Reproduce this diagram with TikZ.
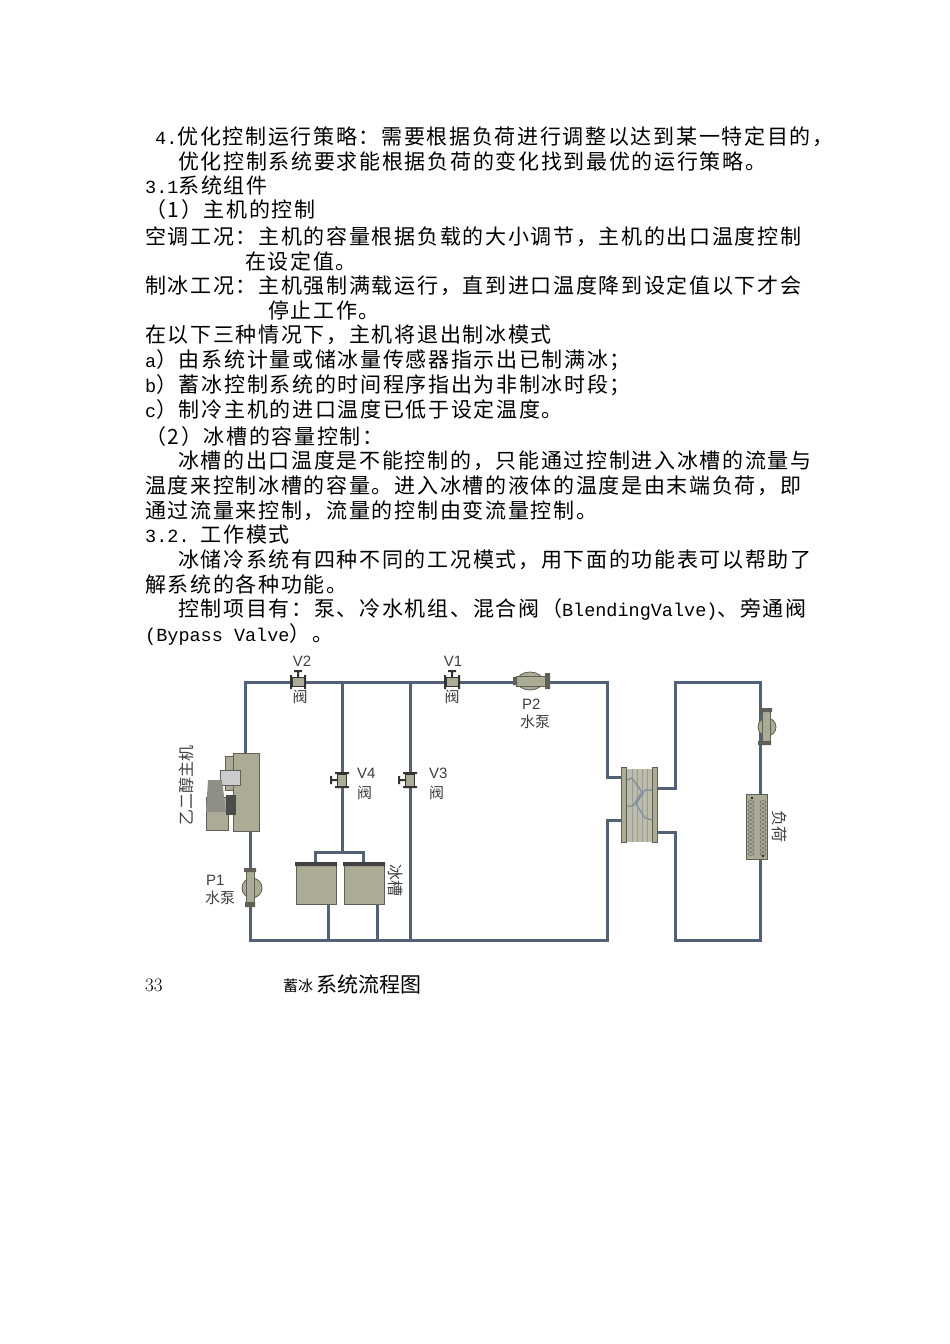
\documentclass[tikz,border=0pt]{standalone}
\usepackage{fontspec}
\usetikzlibrary{shapes.geometric}
\newfontfamily\cjk{Noto Sans CJK SC}
\newfontfamily\cjkw[LetterSpace=8]{Noto Sans CJK SC}
\newfontfamily\lab{Liberation Sans}
\newfontfamily\mono{Liberation Mono}
\newcommand{\mm}[1]{{\mono\fontsize{18.5}{22}\selectfont #1}}
\definecolor{pipe}{RGB}{82,98,118}
\definecolor{equip}{RGB}{172,172,150}
\definecolor{equipd}{RGB}{95,95,85}
\begin{document}
\begin{tikzpicture}[x=1pt,y=-1pt,
  txt/.style={anchor=west,inner sep=0pt,font=\cjkw\fontsize{21}{22}\selectfont},
  lbl/.style={inner sep=0pt,font=\lab\fontsize{15}{16}\selectfont,text=black!75},
  clbl/.style={inner sep=0pt,font=\cjk\fontsize{15}{16}\selectfont,text=black!75},
  pp/.style={draw=pipe,line width=3pt},
  eq/.style={fill=equip,draw=equipd,line width=0.8pt},
  valve/.style={fill=equip,draw=black!80,line width=0.8pt}]
\useasboundingbox (0,0) rectangle (950,1344);
\fill[white] (0,0) rectangle (950,1344);
% ---- text
\node[txt] (t1) at (155,137) {\mm{4.}优化控制运行策略：需要根据负荷进行调整以达到某一特定目的，};
\node[txt] (t2) at (178,161) {优化控制系统要求能根据负荷的变化找到最优的运行策略。};
\node[txt] (t3) at (145,185) {\mm{3.1}系统组件};
\node[txt] (t4) at (145,210) {（1）主机的控制};
\node[txt] (t5) at (145,237) {空调工况：主机的容量根据负载的大小调节，主机的出口温度控制};
\node[txt] (t6) at (245,261) {在设定值。};
\node[txt] (t7) at (145,286) {制冰工况：主机强制满载运行，直到进口温度降到设定值以下才会};
\node[txt] (t8) at (268,310) {停止工作。};
\node[txt] (t9) at (145,335) {在以下三种情况下，主机将退出制冰模式};
\node[txt] (t10) at (145,360) {\mm{a}）由系统计量或储冰量传感器指示出已制满冰；};
\node[txt] (t11) at (145,385) {\mm{b}）蓄冰控制系统的时间程序指出为非制冰时段；};
\node[txt] (t12) at (145,410) {\mm{c}）制冷主机的进口温度已低于设定温度。};
\node[txt] (t13) at (145,437) {（2）冰槽的容量控制：};
\node[txt] (t14) at (178,461) {冰槽的出口温度是不能控制的，只能通过控制进入冰槽的流量与};
\node[txt] (t15) at (145,486) {温度来控制冰槽的容量。进入冰槽的液体的温度是由末端负荷，即};
\node[txt] (t16) at (145,511) {通过流量来控制，流量的控制由变流量控制。};
\node[txt] (t17) at (145,535) {\mm{3.2.\ }工作模式};
\node[txt] (t18) at (178,560) {冰储冷系统有四种不同的工况模式，用下面的功能表可以帮助了};
\node[txt] (t19) at (145,584) {解系统的各种功能。};
\node[txt] (t20) at (178,609) {控制项目有：泵、冷水机组、混合阀（\mm{BlendingValve)}、旁通阀};
\node[txt] (t21) at (145,634) {\mm{(Bypass Valve}）。};
\node[anchor=west,inner sep=0pt,font=\fontsize{19}{20}\selectfont] (cap1) at (145,985) {33};
\node[anchor=west,inner sep=0pt,font=\cjk\fontsize{15}{16}\selectfont] (cap2) at (283,986) {蓄冰};
\node[anchor=west,inner sep=0pt,font=\cjk\fontsize{21}{22}\selectfont] (cap3) at (316,984) {系统流程图};
% ---- coordinates
\coordinate (tl) at (245,682); \coordinate (tr) at (607,682);
\coordinate (bl) at (250,940); \coordinate (br) at (607,940);
% ---- pipes
\draw[pp] (245,753) -- (tl) -- (tr) -- (607,777) -- (623,777);
\draw[pp] (623,820) -- (607,820) -- (br) -- (bl) -- (250,905);
\draw[pp] (245,830) -- (250,830) -- (250,870);
\draw[pp] (342,682) -- (342,852) (315,866) |- (342,852) -| (363,866);
\draw[pp] (410,682) -- (410,940);
\draw[pp] (328,890) -- (328,940) (377,890) -- (377,940);
\draw[pp] (655,788) -- (675,788) -- (675,682) -- (760,682) -- (760,940) -- (675,940) -- (675,832) -- (655,832);
% ---- chiller
\node[eq,minimum width=26pt,minimum height=78pt,inner sep=0pt] (chiller) at (246,792) {};
\fill[equip,draw=equipd] (225,756) rectangle (233,790);
\fill[gray!40,draw=equipd] (220,770) rectangle (240,785);
\fill[equip,draw=equipd] (206,797) rectangle (228,830);
\fill[equipd!70] (208,780) -- (222,780) -- (226,812) -- (206,812) -- cycle;
\fill[black!70] (226,795) rectangle (236,815);
\node[rotate=90,clbl,font=\cjk\fontsize{16}{17}\selectfont] (chl) at (186,785) {乙二醇主机};
% ---- P1
\node[eq,circle,minimum size=20pt,inner sep=0pt] (p1) at (252,888) {};
\fill[equip,draw=equipd] (246,870) rectangle (254,905);
\fill[equipd] (244,868) rectangle (256,872) (245,902) rectangle (255,907);
\node[lbl,anchor=west] (p1l) at (206,880) {P1};
\node[clbl,anchor=west] (p1c) at (205,898) {水泵};
% ---- tanks
\node[eq,anchor=north west,minimum width=40pt,minimum height=40pt,inner sep=0pt] (tank1) at (296,864) {};
\node[eq,anchor=north west,minimum width=40pt,minimum height=40pt,inner sep=0pt] (tank2) at (344,864) {};
\fill[black!75] (295,862) rectangle (337,866) (343,862) rectangle (385,866);
\node[rotate=-90,clbl,font=\cjk\fontsize{16}{17}\selectfont] (tankl) at (396,880) {冰槽};
% ---- valves
\foreach \n/\x/\y in {v2/298/682,v1/452/682}{
  \node[valve,minimum width=12pt,minimum height=9pt,inner sep=0pt] (\n) at (\x,\y) {};
  \fill[black!80] (\x-8,\y-7) rectangle (\x-6,\y+7) (\x+6,\y-7) rectangle (\x+8,\y+7) (\x-1,\y-11) rectangle (\x+1,\y-4) (\x-4,\y-12) rectangle (\x+4,\y-10);
}
\foreach \n/\x/\y in {v4/342/780,v3/410/780}{
  \node[valve,minimum width=9pt,minimum height=12pt,inner sep=0pt] (\n) at (\x,\y) {};
  \fill[black!80] (\x-7,\y-8) rectangle (\x+7,\y-6) (\x-7,\y+6) rectangle (\x+7,\y+8) (\x-11,\y-1) rectangle (\x-4,\y+1) (\x-12,\y-4) rectangle (\x-10,\y+4);
}
\node[lbl] (v2l) at (302,661) {V2};
\node[clbl] (v2c) at (300,697) {阀};
\node[lbl] (v1l) at (453,661) {V1};
\node[clbl] (v1c) at (452,697) {阀};
\node[lbl,anchor=west] (v4l) at (357,773) {V4};
\node[clbl,anchor=west] (v4c) at (357,793) {阀};
\node[lbl,anchor=west] (v3l) at (429,773) {V3};
\node[clbl,anchor=west] (v3c) at (429,793) {阀};
% ---- P2
\node[eq,ellipse,minimum width=26pt,minimum height=18pt,inner sep=0pt] (p2) at (530,681) {};
\fill[equip,draw=equipd] (516,676) rectangle (547,686);
\fill[equipd] (545,673) rectangle (550,689) (513,677) rectangle (517,685);
\node[lbl,anchor=west] (p2l) at (522,704) {P2};
\node[clbl,anchor=west] (p2c) at (520,722) {水泵};
% ---- heat exchanger
\fill[equip!80] (627,769) rectangle (652,842);
\foreach \x in {632,637,642,647} \draw[black!40,line width=0.4pt] (\x,769) -- (\x,842);
\draw[pipe!70,line width=1.5pt] (627,780) -- (632,778) -- (642,792) -- (633,806) -- (627,806);
\draw[pipe!70,line width=1.5pt] (652,790) -- (645,790) -- (636,804) -- (645,818) -- (652,820);
\node[eq,minimum width=5pt,minimum height=75pt,inner sep=0pt] (hxl) at (624,805) {};
\node[eq,minimum width=5pt,minimum height=75pt,inner sep=0pt] (hxr) at (655,805) {};
% ---- P3
\node[eq,circle,minimum size=18pt,inner sep=0pt] (p3) at (767,727) {};
\fill[equip,draw=equipd] (762,710) rectangle (770,742);
\fill[equipd] (759,708) rectangle (772,712) (758,741) rectangle (771,745);
% ---- load
\node[eq,minimum width=21pt,minimum height=65pt,inner sep=0pt] (load) at (757,827) {};
\foreach \y in {802,806,...,854} \draw[black!60,line width=0.5pt] (751,\y) ellipse (3pt and 1.4pt) (763,\y) ellipse (3pt and 1.4pt);
\fill[black] (752,798) circle (1.2pt) (763,856) circle (1.2pt);
\node[rotate=-90,clbl,font=\cjk\fontsize{16}{17}\selectfont] (loadl) at (780,826) {负荷};
\end{tikzpicture}
\end{document}
